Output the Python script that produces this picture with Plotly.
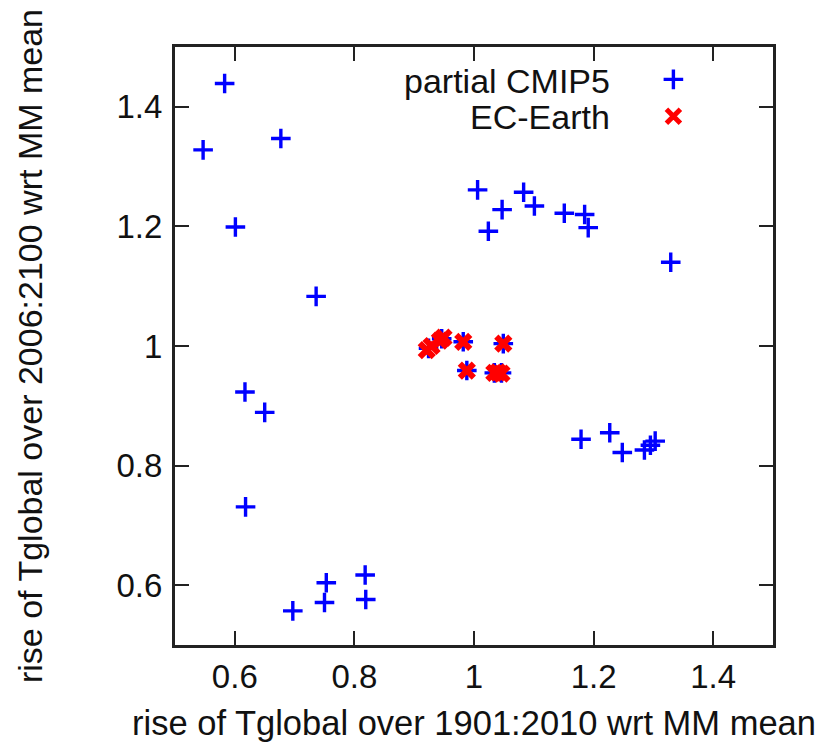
import plotly.graph_objects as go

# ---- data ----
cmip5_x = [0.583, 0.547, 0.677, 0.601, 0.736, 1.006, 1.024, 1.047, 1.083, 1.101,
           1.151, 1.185, 1.191, 1.329, 0.617, 0.650, 0.618, 0.818, 0.753, 0.750,
           0.819, 0.697, 1.179, 1.227, 1.248, 1.285, 1.295, 1.303,
           0.924, 0.946, 0.982, 0.988, 1.034, 1.046, 1.049]
cmip5_y = [1.439, 1.328, 1.347, 1.199, 1.083, 1.261, 1.192, 1.228, 1.257, 1.234,
           1.222, 1.220, 1.198, 1.140, 0.923, 0.889, 0.731, 0.617, 0.604, 0.571,
           0.576, 0.557, 0.844, 0.855, 0.822, 0.826, 0.834, 0.841,
           0.996, 1.012, 1.007, 0.959, 0.955, 0.955, 1.004]

ec_x = [0.921, 0.929, 0.943, 0.949, 0.982, 0.988, 1.034, 1.040, 1.046, 1.049]
ec_y = [0.993, 1.000, 1.009, 1.014, 1.007, 0.959, 0.955, 0.956, 0.954, 1.004]

series_names = ["partial CMIP5", "EC-Earth"]
tick_vals = [0.6, 0.8, 1.0, 1.2, 1.4]
tick_text = ["0.6", "0.8", "1", "1.2", "1.4"]
x_title = "rise of Tglobal over 1901:2010 wrt MM mean"
y_title = "rise of Tglobal over 2006:2100 wrt MM mean"

FONT = "Liberation Sans, Arial, Helvetica, sans-serif"

fig = go.Figure()
fig.add_trace(go.Scatter(
    x=cmip5_x, y=cmip5_y, mode="markers", name=" ",
    marker=dict(symbol="cross-thin", size=14, color="#0000ff",
                line=dict(color="#0000ff", width=3.4)),
))
fig.add_trace(go.Scatter(
    x=ec_x, y=ec_y, mode="markers", name=" ",
    marker=dict(symbol="x-thin", size=14, color="#ff0000",
                line=dict(color="#ff0000", width=6)),
))

axis_common = dict(
    range=[0.5, 1.5], tickvals=tick_vals, ticktext=tick_text,
    ticks="inside", ticklen=14, tickwidth=2, tickcolor="#222",
    showline=True, linecolor="#222", linewidth=3, mirror="ticks",
    showgrid=False, zeroline=False, automargin=False,
    tickfont=dict(family=FONT, size=33, color="#111"),
)

fig.update_xaxes(**axis_common, ticklabelstandoff=0,
                 title=dict(text=x_title, font=dict(family=FONT, size=34.5, color="#111"),
                            standoff=18))
fig.update_yaxes(**axis_common, ticklabelstandoff=3,
                 title=dict(text=y_title, font=dict(family=FONT, size=34, color="#111"),
                            standoff=64))

# legend text (gnuplot style: text left of the key symbol)
for name, ypos in zip(series_names, [0.9436, 0.8834]):
    fig.add_annotation(xref="paper", yref="paper", x=0.731, y=ypos,
                       text=name, showarrow=False, xanchor="right", yanchor="middle",
                       font=dict(family=FONT, size=34, color="#111"))

fig.update_layout(
    width=815, height=745,
    margin=dict(l=167, r=50, t=39, b=108),
    paper_bgcolor="white", plot_bgcolor="white",
    showlegend=True,
    legend=dict(x=0.80, y=0.985, xanchor="left", yanchor="top",
                bgcolor="rgba(0,0,0,0)", font=dict(family=FONT, size=26),
                tracegroupgap=0, itemwidth=30),
)

fig.write_html("out.html")
